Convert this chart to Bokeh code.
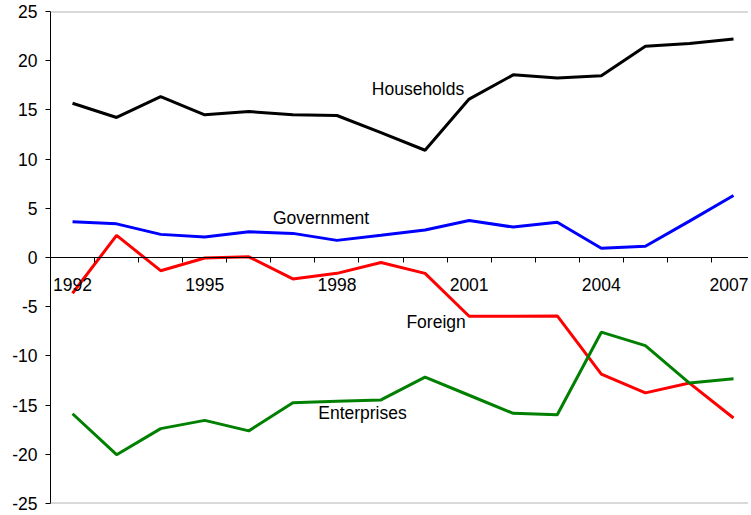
from bokeh.plotting import figure
from bokeh.models import Range1d, FixedTicker, Span, ColumnDataSource, PrintfTickFormatter
from bokeh.core.properties import value
from bokeh.embed import file_html
from bokeh.resources import INLINE

years = list(range(1992, 2008))
households = [15.68, 14.23, 16.35, 14.5, 14.83, 14.5, 14.43, 12.7, 10.9, 16.1,
              18.56, 18.23, 18.46, 21.48, 21.75, 22.2]
government = [3.63, 3.42, 2.35, 2.08, 2.62, 2.45, 1.74, 2.25, 2.79, 3.76,
              3.09, 3.59, 0.94, 1.15, 3.7, 6.3]
foreign = [-3.63, 2.25, -1.34, -0.05, 0.07, -2.18, -1.61, -0.5, -1.61, -5.97,
           -5.97, -5.94, -11.85, -13.76, -12.76, -16.31]
enterprises = [-15.88, -20.04, -17.39, -16.55, -17.62, -14.77, -14.6, -14.47, -12.15, -14.0,
               -15.84, -15.98, -7.59, -8.96, -12.76, -12.32]

series_names = ["Households", "Government", "Foreign", "Enterprises"]
series_colors = ["#000000", "#0000FF", "#FF0000", "#008000"]
label_x = [1999.84, 1997.64, 2000.25, 1998.58]
label_y = [17.1, 3.98, -6.6, -15.76]

x_tick_labels = [1992, 1995, 1998, 2001, 2004, 2007]
y_ticks = [-25, -20, -15, -10, -5, 0, 5, 10, 15, 20, 25]

FONT = "Liberation Sans"
FS = "17.5px"

p = figure(width=748, height=514, output_backend="svg", toolbar_location=None,
           x_range=Range1d(1991.5, 2007.34), y_range=Range1d(-25, 25),
           min_border_left=50, min_border_right=0, min_border_top=11, min_border_bottom=11)
p.outline_line_color = None
p.grid.visible = False
p.background_fill_color = "white"
p.border_fill_color = "white"

for vals, col in zip([households, government, foreign, enterprises], series_colors):
    p.line(years, vals, line_color=col, line_width=3)

src = ColumnDataSource(dict(x=label_x, y=label_y, t=series_names))
p.text(x="x", y="y", text="t", source=src, text_font=value(FONT), text_font_size=FS,
       text_align="center", text_baseline="middle", text_color="#000000")

for yv in [25, -25]:
    p.add_layout(Span(location=yv, dimension="width", line_color="#b4b4b4", line_width=2))

xa = p.xaxis[0]
xa.fixed_location = 0
xa.ticker = FixedTicker(ticks=x_tick_labels, minor_ticks=[y + 0.5 for y in range(1991, 2008)])
xa.formatter = PrintfTickFormatter(format="%d")
xa.major_tick_line_color = None
xa.major_tick_in = 0
xa.major_tick_out = 0
xa.minor_tick_in = 0
xa.minor_tick_out = 5
xa.minor_tick_line_color = "#000000"
xa.axis_line_color = "#000000"
xa.major_label_standoff = 15
xa.major_label_text_font = FONT
xa.major_label_text_font_size = FS
xa.major_label_text_color = "#000000"

ya = p.yaxis[0]
ya.ticker = FixedTicker(ticks=y_ticks, minor_ticks=[])
ya.formatter = PrintfTickFormatter(format="%d")
ya.major_tick_in = 0
ya.major_tick_out = 5
ya.major_tick_line_color = "#000000"
ya.axis_line_color = "#000000"
ya.major_label_standoff = 8
ya.major_label_text_font = FONT
ya.major_label_text_font_size = FS
ya.major_label_text_color = "#000000"

open("out.html", "w").write(file_html(p, INLINE))
